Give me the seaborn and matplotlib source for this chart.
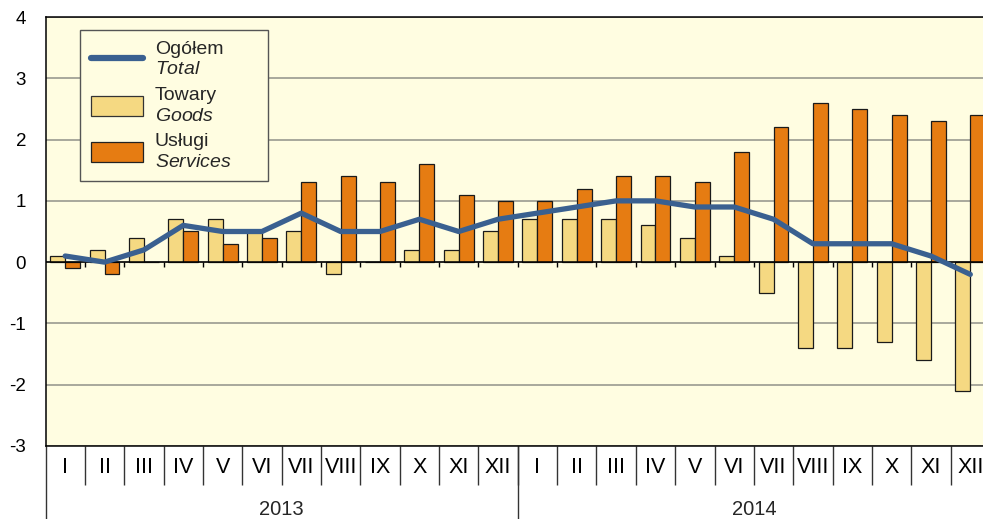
import matplotlib.pyplot as plt
import seaborn as sns
import pandas as pd
import numpy as np
from matplotlib.lines import Line2D
from matplotlib.patches import Patch

# data (change vs previous month, %)
months = ['I', 'II', 'III', 'IV', 'V', 'VI', 'VII', 'VIII', 'IX', 'X', 'XI', 'XII']
years = ['2013', '2014']
total = [0.1, 0.0, 0.2, 0.6, 0.5, 0.5, 0.8, 0.5, 0.5, 0.7, 0.5, 0.7,
         0.8, 0.9, 1.0, 1.0, 0.9, 0.9, 0.7, 0.3, 0.3, 0.3, 0.1, -0.2]
goods = [0.1, 0.2, 0.4, 0.7, 0.7, 0.5, 0.5, -0.2, 0.0, 0.2, 0.2, 0.5,
         0.7, 0.7, 0.7, 0.6, 0.4, 0.1, -0.5, -1.4, -1.4, -1.3, -1.6, -2.1]
services = [-0.1, -0.2, 0.0, 0.5, 0.3, 0.4, 1.3, 1.4, 1.3, 1.6, 1.1, 1.0,
            1.0, 1.2, 1.4, 1.4, 1.3, 1.8, 2.2, 2.6, 2.5, 2.4, 2.3, 2.4]
yticks = [-3, -2, -1, 0, 1, 2, 3, 4]

GOODS = '#f5d982'
SERV = '#e67c12'
LINE = '#3a6090'
BG = '#fffde1'

sns.set_style('white')
plt.rcParams['font.family'] = ['Liberation Sans', 'DejaVu Sans']
plt.rcParams['mathtext.fontset'] = 'custom'
plt.rcParams['mathtext.it'] = 'Liberation Sans:italic'
plt.rcParams['mathtext.rm'] = 'Liberation Sans'

keys = [y + '-' + m for y in years for m in months]
df = pd.DataFrame({'key': keys * 2,
                   'value': goods + services,
                   'series': ['Towary'] * len(keys) + ['Usługi'] * len(keys)})

fig = plt.figure(figsize=(9.83, 5.19), dpi=100)
ax = fig.add_axes([0.0463, 0.1407, 0.9608, 0.8265])
ax.set_facecolor(BG)

ax.yaxis.grid(True, color='#9a9a90', linewidth=1.2, zorder=0)
ax.set_axisbelow(True)

sns.barplot(data=df, x='key', y='value', hue='series', order=keys,
            palette=[GOODS, SERV], saturation=1, width=0.76, edgecolor='#1a1a1a',
            linewidth=0.9, errorbar=None, legend=False, ax=ax, zorder=3)

ax.axhline(0, color='black', linewidth=1.1, zorder=3.5)

pos = np.arange(len(keys))
sns.lineplot(x=pos, y=total, color=LINE, linewidth=3.8, ax=ax, zorder=4,
             solid_capstyle='round', solid_joinstyle='round')

ax.set_xlim(-0.5, len(keys) - 0.5)
ax.set_ylim(-3, 4)
ax.set_yticks(yticks)
ax.set_yticklabels([str(v) for v in yticks], fontsize=13.5)
ax.set_xticks(pos)
ax.set_xticklabels(months * len(years), fontsize=15.5)
ax.tick_params(axis='both', length=0, colors='black')
ax.tick_params(axis='y', pad=14)
ax.tick_params(axis='x', pad=8)
ax.set_xlabel('')
ax.set_ylabel('')

for s in ax.spines.values():
    s.set_color('black')
    s.set_linewidth(1.1)

# small ticks under the zero line
bounds = pos[:-1] + 0.5
ax.vlines(bounds, -0.08, 0, color='black', linewidth=1, zorder=3.5)

# separators in the category area
xt = ax.get_xaxis_transform()
ax.vlines(bounds, -0.091, 0, transform=xt, color='#333333', linewidth=1, clip_on=False)
ax.vlines([-0.5, 11.5, 23.5], -0.2, 0, transform=xt, color='#333333', linewidth=1, clip_on=False)
for i, y in enumerate(years):
    ax.text(i * 12 + 5.5, -0.149, y, transform=xt, ha='center', va='center', fontsize=14.5)

handles = [Line2D([0], [0], color=LINE, linewidth=4.5, solid_capstyle='round'),
           Patch(facecolor=GOODS, edgecolor='#333333', linewidth=0.9),
           Patch(facecolor=SERV, edgecolor='#222222', linewidth=0.9)]
labels = ['Ogółem\n$\\mathit{Total}$',
          'Towary\n$\\mathit{Goods}$',
          'Usługi\n$\\mathit{Services}$']
leg = ax.legend(handles, labels, loc='upper left',
                bbox_to_anchor=(0.0365, 0.0, 0.199, 0.97), mode='expand',
                borderaxespad=0, fontsize=14, handlelength=2.7, handleheight=1.2,
                handletextpad=0.6, labelspacing=0.42, borderpad=0.55,
                frameon=True, fancybox=False, framealpha=1)
for t in leg.get_texts():
    t.set_linespacing(1.3)
leg.get_frame().set_facecolor(BG)
leg.get_frame().set_edgecolor('#555555')
leg.get_frame().set_linewidth(1)

fig.savefig('out.png', dpi=100, facecolor='white')
